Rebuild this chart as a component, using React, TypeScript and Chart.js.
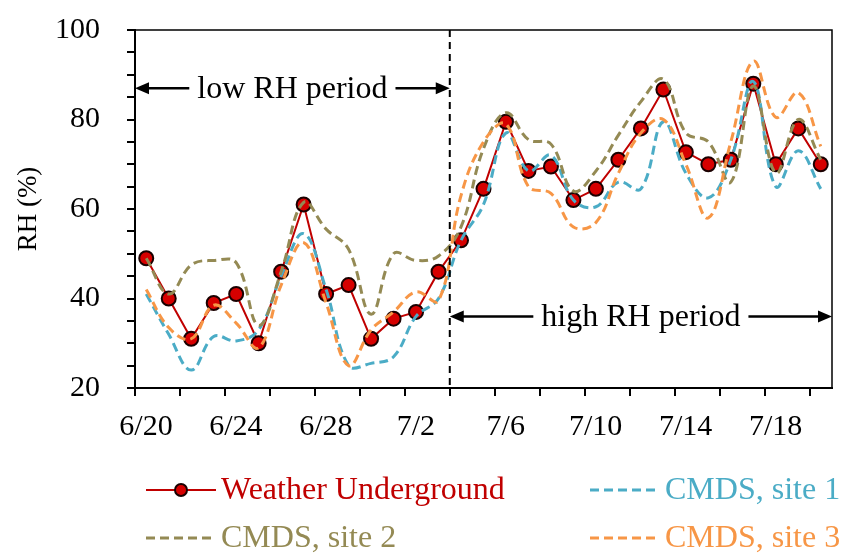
import React, { useEffect, useRef } from 'react';
import { Chart, registerables } from 'chart.js';

Chart.register(...registerables);

// ---------- data ----------
const dayLabels = [
  '6/20', '6/21', '6/22', '6/23', '6/24', '6/25', '6/26', '6/27', '6/28', '6/29', '6/30',
  '7/1', '7/2', '7/3', '7/4', '7/5', '7/6', '7/7', '7/8', '7/9', '7/10',
  '7/11', '7/12', '7/13', '7/14', '7/15', '7/16', '7/17', '7/18', '7/19', '7/20',
];
const xTickEvery = 2; // tick marks every 2 days
const xLabelEvery = 4; // labels every 4 days

const yMin = 20;
const yMax = 100;
const yMinorStep = 5;
const yMajorTicks = [20, 40, 60, 80, 100];

const seriesNames = ['Weather Underground', 'CMDS, site 1', 'CMDS, site 2', 'CMDS, site 3'];

const weatherUnderground = [
  49, 40, 31, 39, 41, 30, 46, 61, 41, 43, 31, 35.5, 37, 46,
  53, 64.5, 79.5, 68.5, 69.5, 62, 64.5, 71, 78, 86.7, 72.7, 70, 71, 88, 70, 78, 70,
];
const cmdsSite1 = [
  41, 32, 24, 31.5, 30.5, 33, 45, 54.5, 42, 25, 25.5, 27, 36, 40,
  53, 61, 77, 68.5, 72, 62, 60.5, 66, 64.5, 79.5, 68, 62.5, 71, 88.5, 65, 73, 64.5,
];
const cmdsSite2 = [
  49, 41, 47.5, 48.5, 48, 34, 46, 61.5, 55.5, 51, 36.5, 50, 48.5, 49.5,
  56, 73.5, 81.5, 75.5, 74.5, 64, 68.5, 76.5, 84, 89, 77, 75, 66, 87.5, 68, 80, 71,
];
const cmdsSite3 = [
  42, 33.5, 31, 38.5, 34.5, 29, 43, 52.5, 39, 25, 33, 37, 41.5, 39.5,
  63, 75, 79, 65, 63.5, 56, 57, 68, 77, 80, 70, 58, 75, 93, 80.5, 86, 74,
];

const periodSplitDay = 14; // boundary before 7/4
const lowPeriodText = 'low RH period';
const highPeriodText = 'high RH period';
const lowPeriodY = 87;
const highPeriodY = 36;

// ---------- styles ----------
const FONT = 'Liberation Serif';
const colors = ['#c00000', '#4bacc6', '#948a54', '#f79646'];

const toPoints = (arr: number[]) => arr.map((v, i) => ({ x: i + 0.5, y: v }));

function drawArrowHead(ctx: CanvasRenderingContext2D, x: number, y: number, dir: number) {
  const len = 14;
  const half = 6;
  ctx.beginPath();
  ctx.moveTo(x, y);
  ctx.lineTo(x - dir * len, y - half);
  ctx.lineTo(x - dir * len, y + half);
  ctx.closePath();
  ctx.fill();
}

function drawSpan(ctx: CanvasRenderingContext2D, x1: number, x2: number, y: number, text: string) {
  ctx.font = `32px "${FONT}"`;
  ctx.textAlign = 'center';
  ctx.textBaseline = 'middle';
  ctx.fillStyle = '#000';
  const mid = (x1 + x2) / 2;
  const w = ctx.measureText(text).width;
  ctx.fillText(text, mid, y + 1);
  const gap = 8;
  ctx.strokeStyle = '#000';
  ctx.lineWidth = 2.5;
  ctx.beginPath();
  ctx.moveTo(x1 + 4, y);
  ctx.lineTo(mid - w / 2 - gap, y);
  ctx.moveTo(mid + w / 2 + gap, y);
  ctx.lineTo(x2 - 4, y);
  ctx.stroke();
  drawArrowHead(ctx, x1, y, -1);
  drawArrowHead(ctx, x2, y, 1);
}

const overlayPlugin = {
  id: 'overlay',
  afterDatasetsDraw(chart: any) {
    const { ctx, chartArea: a, scales } = chart;
    const x = scales.x;
    const y = scales.y;
    ctx.save();
    ctx.strokeStyle = '#000';
    ctx.lineWidth = 1.5;
    ctx.beginPath();
    ctx.moveTo(a.left, a.top);
    ctx.lineTo(a.right, a.top);
    ctx.lineTo(a.right, a.bottom);
    ctx.stroke();

    const sx = x.getPixelForValue(periodSplitDay);
    ctx.setLineDash([7, 5]);
    ctx.lineWidth = 2;
    ctx.beginPath();
    ctx.moveTo(sx, a.top);
    ctx.lineTo(sx, a.bottom);
    ctx.stroke();
    ctx.setLineDash([]);

    drawSpan(ctx, a.left, sx, y.getPixelForValue(lowPeriodY), lowPeriodText);
    drawSpan(ctx, sx, a.right, y.getPixelForValue(highPeriodY), highPeriodText);
    ctx.restore();
  },
};

const legendPlugin = {
  id: 'gridLegend',
  afterDraw(chart: any) {
    const { ctx } = chart;
    const colX = [146, 590];
    const rowY = [490, 538];
    const sampleW = 70;
    ctx.save();
    chart.data.datasets.forEach((ds: any, i: number) => {
      const x0 = colX[i % 2];
      const yy = rowY[Math.floor(i / 2)];
      ctx.strokeStyle = ds.borderColor;
      ctx.lineWidth = ds.borderWidth;
      ctx.setLineDash(ds.borderDash || []);
      ctx.beginPath();
      ctx.moveTo(x0, yy);
      ctx.lineTo(x0 + sampleW, yy);
      ctx.stroke();
      ctx.setLineDash([]);
      if (ds.pointRadius > 0) {
        ctx.beginPath();
        ctx.arc(x0 + sampleW / 2, yy, 6, 0, Math.PI * 2);
        ctx.fillStyle = ds.pointBackgroundColor;
        ctx.fill();
        ctx.lineWidth = 2;
        ctx.strokeStyle = ds.pointBorderColor;
        ctx.stroke();
      }
      ctx.font = `32px "${FONT}"`;
      ctx.textAlign = 'left';
      ctx.textBaseline = 'middle';
      ctx.fillStyle = ds.borderColor;
      ctx.fillText(ds.label, x0 + sampleW + 5, yy + 1);
    });
    ctx.restore();
  },
};

export default function App() {
  const ref = useRef<HTMLCanvasElement | null>(null);

  useEffect(() => {
    document.body.style.margin = '0';
    const canvas = ref.current;
    if (!canvas) return;
    const dashed = (idx: number, data: number[], order: number) => ({
      label: seriesNames[idx],
      data: toPoints(data),
      borderColor: colors[idx],
      backgroundColor: colors[idx],
      borderWidth: 3,
      borderDash: [9, 5],
      pointRadius: 0,
      tension: 0.4,
      order,
    });
    const chart = new Chart(canvas, {
      type: 'line',
      data: {
        datasets: [
          {
            label: seriesNames[0],
            data: toPoints(weatherUnderground),
            borderColor: colors[0],
            backgroundColor: colors[0],
            borderWidth: 2,
            pointRadius: 7,
            pointBackgroundColor: '#d60000',
            pointBorderColor: '#1a0000',
            pointBorderWidth: 2,
            tension: 0,
            order: 4,
          } as any,
          dashed(1, cmdsSite1, 3),
          dashed(2, cmdsSite2, 2),
          dashed(3, cmdsSite3, 1),
        ],
      },
      options: {
        animation: false,
        responsive: false,
        devicePixelRatio: 1,
        layout: { padding: { left: 0, top: 30, right: 9, bottom: 115 } },
        plugins: {
          legend: { display: false },
          tooltip: { enabled: false },
          title: { display: false },
        },
        scales: {
          x: {
            type: 'linear',
            min: 0,
            max: dayLabels.length,
            afterBuildTicks: (s: any) => {
              const t: any[] = [];
              for (let v = 0; v < dayLabels.length; v += xTickEvery) t.push({ value: v });
              s.ticks = t;
            },
            afterFit: (s: any) => {
              s.height = 50;
            },
            ticks: {
              autoSkip: false,
              maxRotation: 0,
              labelOffset: 11,
              padding: 13,
              color: '#000',
              font: { family: FONT, size: 30 },
              callback: (v: any) => (v % xLabelEvery === 0 ? dayLabels[v] : ''),
            },
            grid: {
              drawOnChartArea: false,
              drawTicks: true,
              tickLength: 8,
              color: '#000',
              lineWidth: 2,
            },
            border: { display: true, color: '#000', width: 2 },
          },
          y: {
            min: yMin,
            max: yMax,
            afterBuildTicks: (s: any) => {
              const t: any[] = [];
              for (let v = yMin; v <= yMax; v += yMinorStep) t.push({ value: v });
              s.ticks = t;
            },
            afterFit: (s: any) => {
              s.width = 135;
              s.paddingTop = 0;
              s.paddingBottom = 0;
            },
            ticks: {
              autoSkip: false,
              padding: 27,
              color: '#000',
              font: { family: FONT, size: 30 },
              callback: (v: any) => (yMajorTicks.includes(v) ? String(v) : ''),
            },
            grid: {
              drawOnChartArea: false,
              drawTicks: true,
              tickLength: 8,
              color: '#000',
              lineWidth: 2,
            },
            border: { display: true, color: '#000', width: 2 },
            title: {
              display: true,
              text: 'RH (%)',
              color: '#000',
              font: { family: FONT, size: 27 },
              padding: { top: 13, bottom: 0 },
            },
          },
        },
      },
      plugins: [overlayPlugin, legendPlugin],
    } as any);
    return () => chart.destroy();
  }, []);

  return (
    <div style={{ width: 841, height: 553, position: 'relative', background: '#fff' }}>
      <canvas ref={ref} width={841} height={553} />
    </div>
  );
}
